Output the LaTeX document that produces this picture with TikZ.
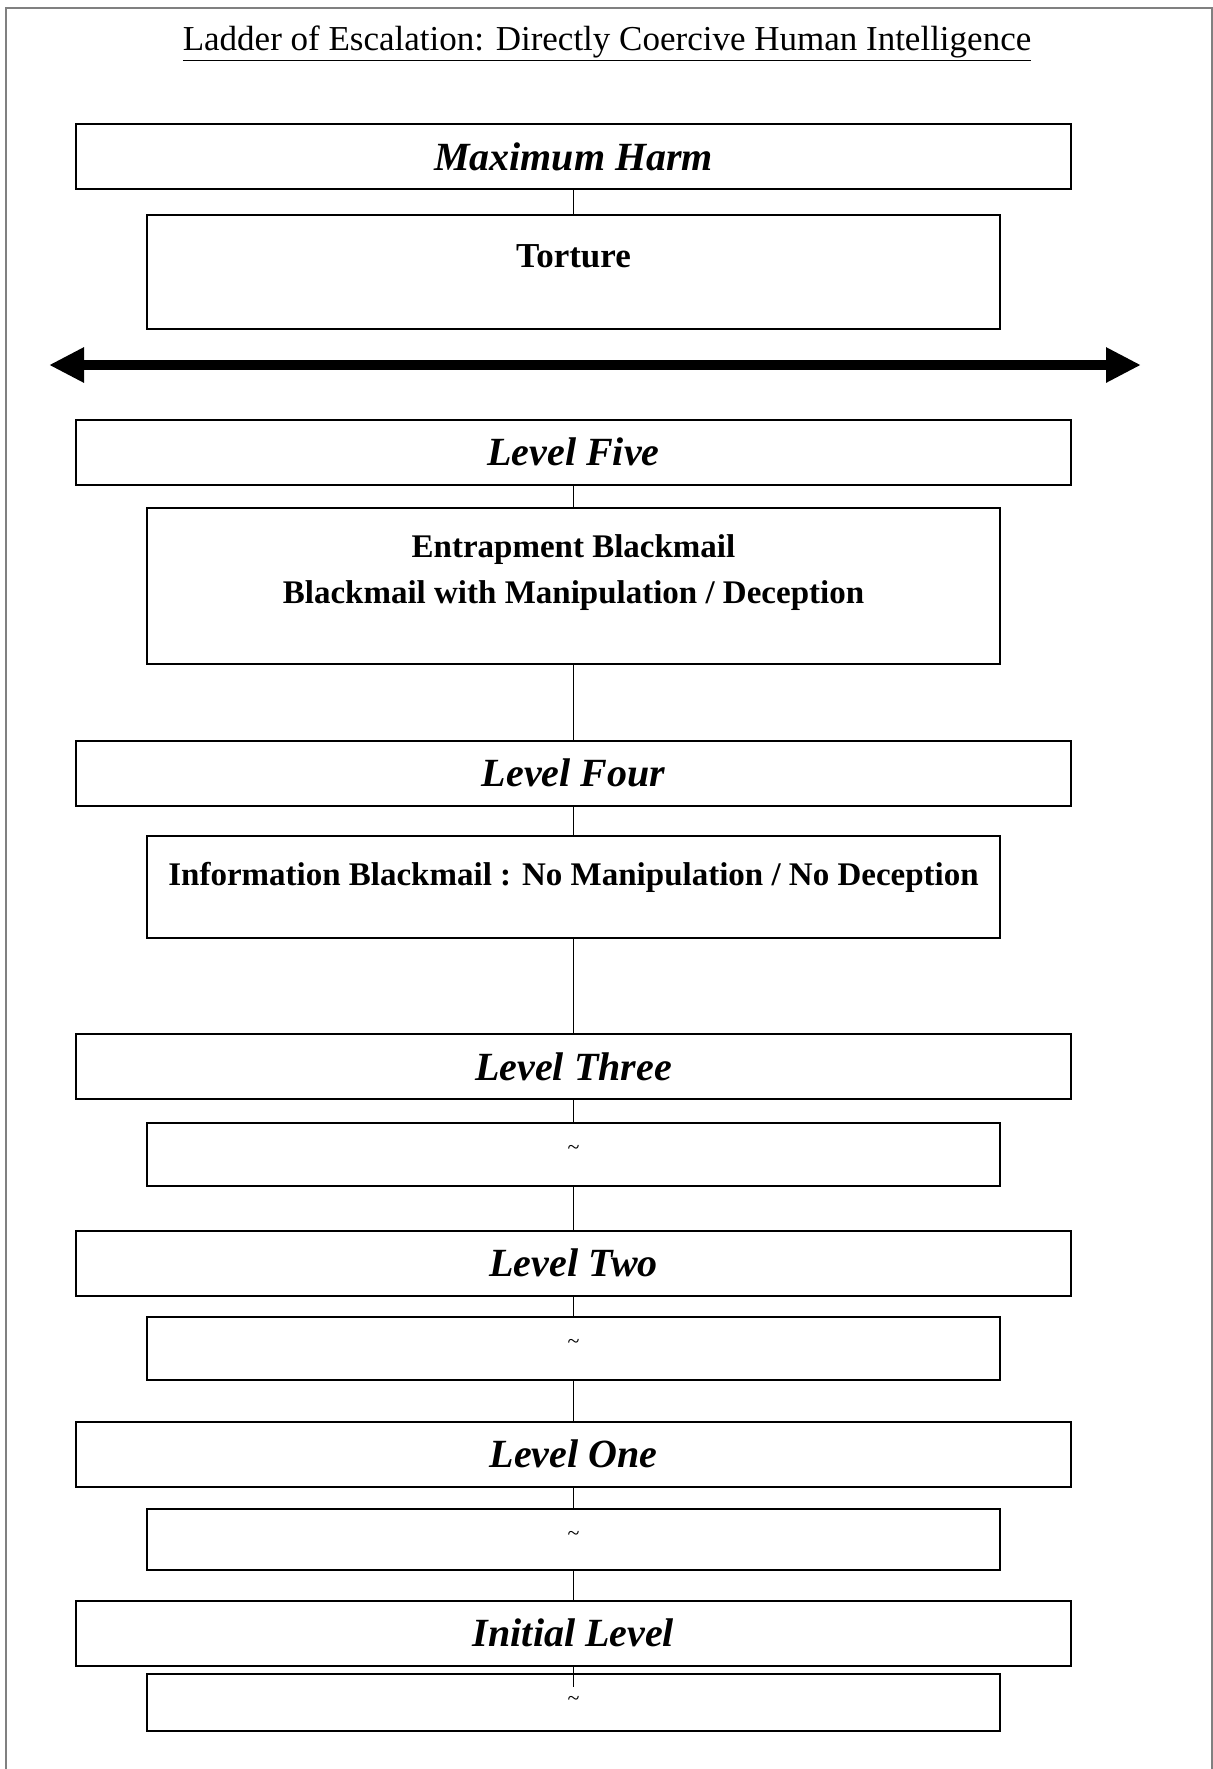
\documentclass[tikz,border=0pt]{standalone}
\usepackage{fontspec}
\setmainfont{Liberation Serif}
\usetikzlibrary{arrows.meta}
\begin{document}
\begin{tikzpicture}[x=0.5pt,y=-0.5pt,
  hdr/.style={draw, line width=1pt, minimum width=497.5pt, minimum height=32.5pt,
    inner sep=0pt, font=\fontsize{20}{24}\selectfont\bfseries\itshape},
  cbox/.style={draw, line width=1pt, minimum width=426.5pt, inner sep=0pt},
  ctext/.style={anchor=base, inner sep=0pt, font=\fontsize{16.5}{20}\selectfont\bfseries},
  tld/.style={inner sep=0pt, font=\fontsize{11}{13}\selectfont},
  link/.style={line width=0.6pt},
  frame/.style={line width=1pt, draw=black!50},
  bigarrow/.style={line width=5pt,
    {Triangle[length=17.5pt 0 0,width=16.5pt 0 0]}-{Triangle[length=17.5pt 0 0,width=16.5pt 0 0]}}]
\useasboundingbox (0,0) rectangle (1213,1769);

% outer frame, open at the bottom
\draw[frame] (6,1780) -- (6,8) -- (1212,8) -- (1212,1780);

% title
\node[anchor=base, font=\fontsize{17.5}{21}\selectfont] (title) at (607,50)
  {\underline{Ladder of Escalation: Directly Coercive Human Intelligence}};

% maximum harm
\node[hdr] (mh) at (573.5,156.5) {Maximum Harm};
\node[cbox, minimum height=57pt] (c6) at (573.5,272) {};
\node[ctext, font=\fontsize{17.5}{21}\selectfont\bfseries] (t6) at ([yshift=-26.5pt]c6.north) {Torture};

% threshold arrow
\coordinate (ltip) at (49,365);
\coordinate (rtip) at (1141,365);
\draw[bigarrow] (ltip) -- (rtip);

% level five
\node[hdr] (l5) at (573.5,452) {Level Five};
\node[cbox, minimum height=78pt] (c5) at (573.5,586) {};
\node[ctext] (t5a) at ([yshift=-25pt]c5.north) {Entrapment Blackmail};
\node[ctext] (t5b) at ([yshift=-48pt]c5.north) {Blackmail with Manipulation / Deception};

% level four
\node[hdr] (l4) at (573.5,773) {Level Four};
\node[cbox, minimum height=51pt] (c4) at (573.5,887) {};
\node[ctext] (t4) at ([yshift=-25pt]c4.north) {Information Blackmail : No Manipulation / No Deception};

% level three
\node[hdr] (l3) at (573.5,1066.5) {Level Three};
\node[cbox, minimum height=31.5pt] (c3) at (573.5,1154.5) {};
\node[tld] (t3) at ([yshift=-14pt]c3.north) {\textasciitilde};

% level two
\node[hdr] (l2) at (573.5,1263) {Level Two};
\node[cbox, minimum height=31.5pt] (c2) at (573.5,1348.5) {};
\node[tld] (t2) at ([yshift=-14pt]c2.north) {\textasciitilde};

% level one
\node[hdr] (l1) at (573.5,1454) {Level One};
\node[cbox, minimum height=30.5pt] (c1) at (573.5,1539.5) {};
\node[tld] (t1) at ([yshift=-14pt]c1.north) {\textasciitilde};

% initial level
\node[hdr] (l0) at (573.5,1633) {Initial Level};
\node[cbox, minimum height=28.5pt] (c0) at (573.5,1702.5) {};
\node[tld] (t0) at ([yshift=-14pt]c0.north) {\textasciitilde};
\coordinate (stub) at (573.5,1687);

% connectors
\draw[link] (mh.south) -- (c6.north);
\draw[link] (l5.south) -- (c5.north);
\draw[link] (c5.south) -- (l4.north);
\draw[link] (l4.south) -- (c4.north);
\draw[link] (c4.south) -- (l3.north);
\draw[link] (l3.south) -- (c3.north);
\draw[link] (c3.south) -- (l2.north);
\draw[link] (l2.south) -- (c2.north);
\draw[link] (c2.south) -- (l1.north);
\draw[link] (l1.south) -- (c1.north);
\draw[link] (c1.south) -- (l0.north);
\draw[link] (l0.south) -- (stub);
\end{tikzpicture}
\end{document}
